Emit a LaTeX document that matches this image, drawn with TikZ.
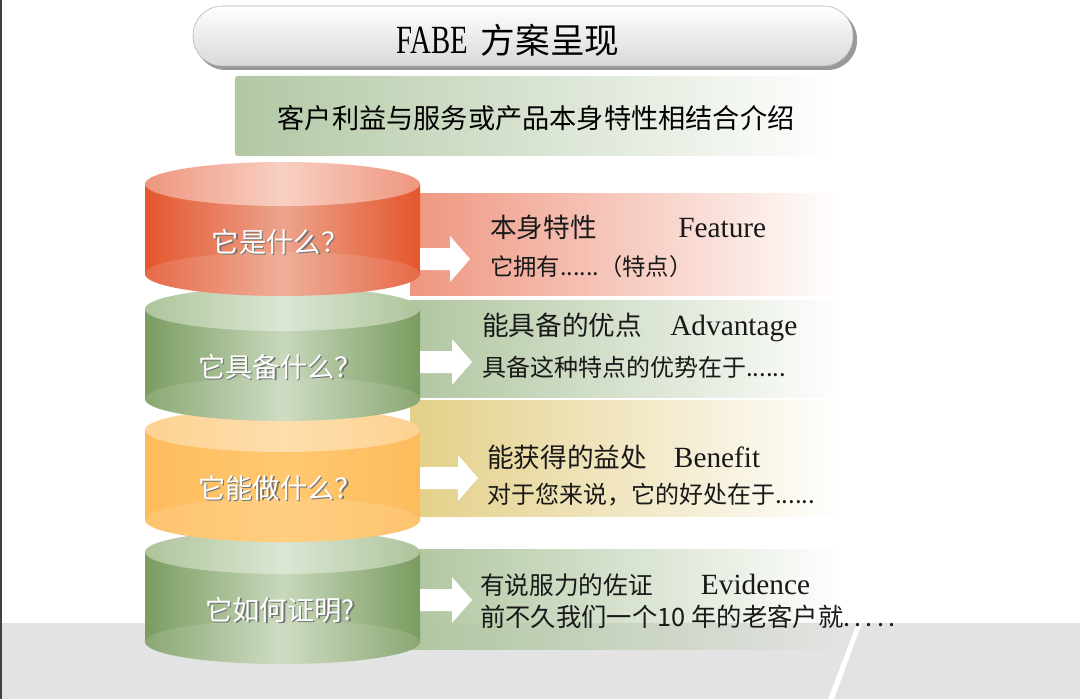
\documentclass[tikz,border=0pt]{standalone}
\usepackage{fontspec}
\setmainfont{Noto Sans CJK SC}
\newfontfamily\latin{Liberation Serif}
\newfontfamily\latinnarrow[FakeStretch=0.72]{Liberation Serif}
\usetikzlibrary{fadings}

\definecolor{redEdge}{RGB}{228,86,46}
\definecolor{redMid}{RGB}{236,164,140}
\definecolor{redTop}{RGB}{238,150,126}
\definecolor{redTopMid}{RGB}{248,208,195}
\definecolor{greenEdge}{RGB}{122,156,96}
\definecolor{greenMid}{RGB}{200,216,188}
\definecolor{greenTop}{RGB}{174,196,155}
\definecolor{greenTopMid}{RGB}{220,230,212}
\definecolor{orangeEdge}{RGB}{253,188,92}
\definecolor{orangeMid}{RGB}{255,200,112}
\definecolor{orangeTop}{RGB}{253,210,146}
\definecolor{orangeTopMid}{RGB}{254,222,172}
\definecolor{redBand}{RGB}{239,150,128}
\definecolor{greenBand}{RGB}{176,198,160}
\definecolor{yellowBand}{RGB}{228,208,136}
\definecolor{subBand}{RGB}{178,200,164}

\tikzfading[name=fadeband, left color=transparent!0, right color=transparent!100]

\tikzset{
  rowhead/.style={anchor=west, inner sep=0pt, text=black!90,
    font=\fontsize{20}{24}\selectfont},
  rowtext/.style={anchor=west, inner sep=0pt, text=black!90,
    font=\fontsize{18}{21}\selectfont},
  cyllabel/.style={inner sep=0pt, text=white, font=\fontsize{20.5}{24}\selectfont},
  cylshadow/.style={cyllabel, text=black!55}
}

\begin{document}
\begin{tikzpicture}[x=0.75pt, y=-0.75pt]
  \useasboundingbox (0,0) rectangle (1080,699);
  \fill[white] (0,0) rectangle (1080,699);
  \fill[black!11] (0,623) rectangle (1080,699);
  \fill[white] (857,623) -- (862,623) -- (834,699) -- (828,699) -- cycle;
  \fill[black!75] (0,0) rectangle (2,699);

  % title
  \fill[black!40, rounded corners=22pt] (196,10) rectangle (857,70);
  \shade[top color=white, bottom color=black!15, draw=black!30, rounded corners=22pt]
    (193,6) rectangle (853,66);
  \node (title) at (508,40)
    {\fontsize{26}{30}\selectfont{\latinnarrow\fontsize{30}{30}\selectfont FABE}\hspace{4pt} 方案呈现};

  % subtitle
  \fill[subBand, path fading=fadeband, rounded corners=2pt] (235,76) rectangle (830,156);
  \node (sub) at (536,118) {\fontsize{20.4}{24}\selectfont 客户利益与服务或产品本身特性相结合介绍};

  % bands
  \foreach \ya/\yb/\col in {193/296/redBand, 300/398/greenBand, 400/517/yellowBand, 549/650/greenBand}
    \fill[\col, path fading=fadeband] (410,\ya) rectangle (840,\yb);

  % cylinders, bottom one first
  \foreach \i/\ty/\col/\lab in {4/610/green/{它如何证明?}, 3/488/orange/{它能做什么？},
                                2/367/green/{它具备什么？}, 1/242/red/{它是什么？}} {
    \shade[left color=\col Edge, right color=\col Edge, middle color=\col Mid]
      (145,\ty-58) rectangle (420,\ty+32);
    \shade[left color=\col Edge, right color=\col Edge, middle color=\col Mid]
      (282.5,\ty+32) ellipse [x radius=137.5, y radius=22];
    \fill[white, opacity=0.12] (282.5,\ty+32) ellipse [x radius=137.5, y radius=22];
    \shade[left color=\col Top, right color=\col Top, middle color=\col TopMid]
      (282.5,\ty-58) ellipse [x radius=137.5, y radius=22];
    \node[cylshadow] (shd\i) at (281.5,\ty+1.5) {\lab};
    \node[cyllabel] (cyl\i) at (280,\ty) {\lab};
  }

  % white arrows
  \foreach \ax/\ay in {470/259, 472/362, 478/478, 472/600}
    \fill[white] (420,\ay-11) -- (\ax-20,\ay-11) -- (\ax-20,\ay-23) -- (\ax,\ay)
      -- (\ax-20,\ay+23) -- (\ax-20,\ay+11) -- (420,\ay+11) -- cycle;

  \node[rowhead] (head1) at (490,227) {本身特性\hspace{61pt}{\latin\fontsize{22}{24}\selectfont Feature}};
  \node[rowtext, font=\fontsize{17.5}{21}\selectfont] (text1) at (490,267) {它拥有......（特点）};
  \node[rowhead] (head2) at (482,327) {能具备的优点\hspace{21pt}{\latin\fontsize{22}{24}\selectfont Advantage}};
  \node[rowtext] (text2) at (482,367) {具备这种特点的优势在于......};
  \node[rowhead] (head3) at (487,457) {能获得的益处\hspace{20pt}{\latin\fontsize{22}{24}\selectfont Benefit}};
  \node[rowtext] (text3) at (487,495) {对于您来说，它的好处在于......};
  \node[rowhead, font=\fontsize{18.5}{22}\selectfont] (head4) at (480,585) {有说服力的佐证\hspace{36pt}{\latin\fontsize{22}{24}\selectfont Evidence}};
  \node[rowtext, font=\fontsize{19}{21}\selectfont] (text4) at (480,617) {前不久我们一个10 年的老客户就.\,.\,.\,.\,.};
\end{tikzpicture}
\end{document}
